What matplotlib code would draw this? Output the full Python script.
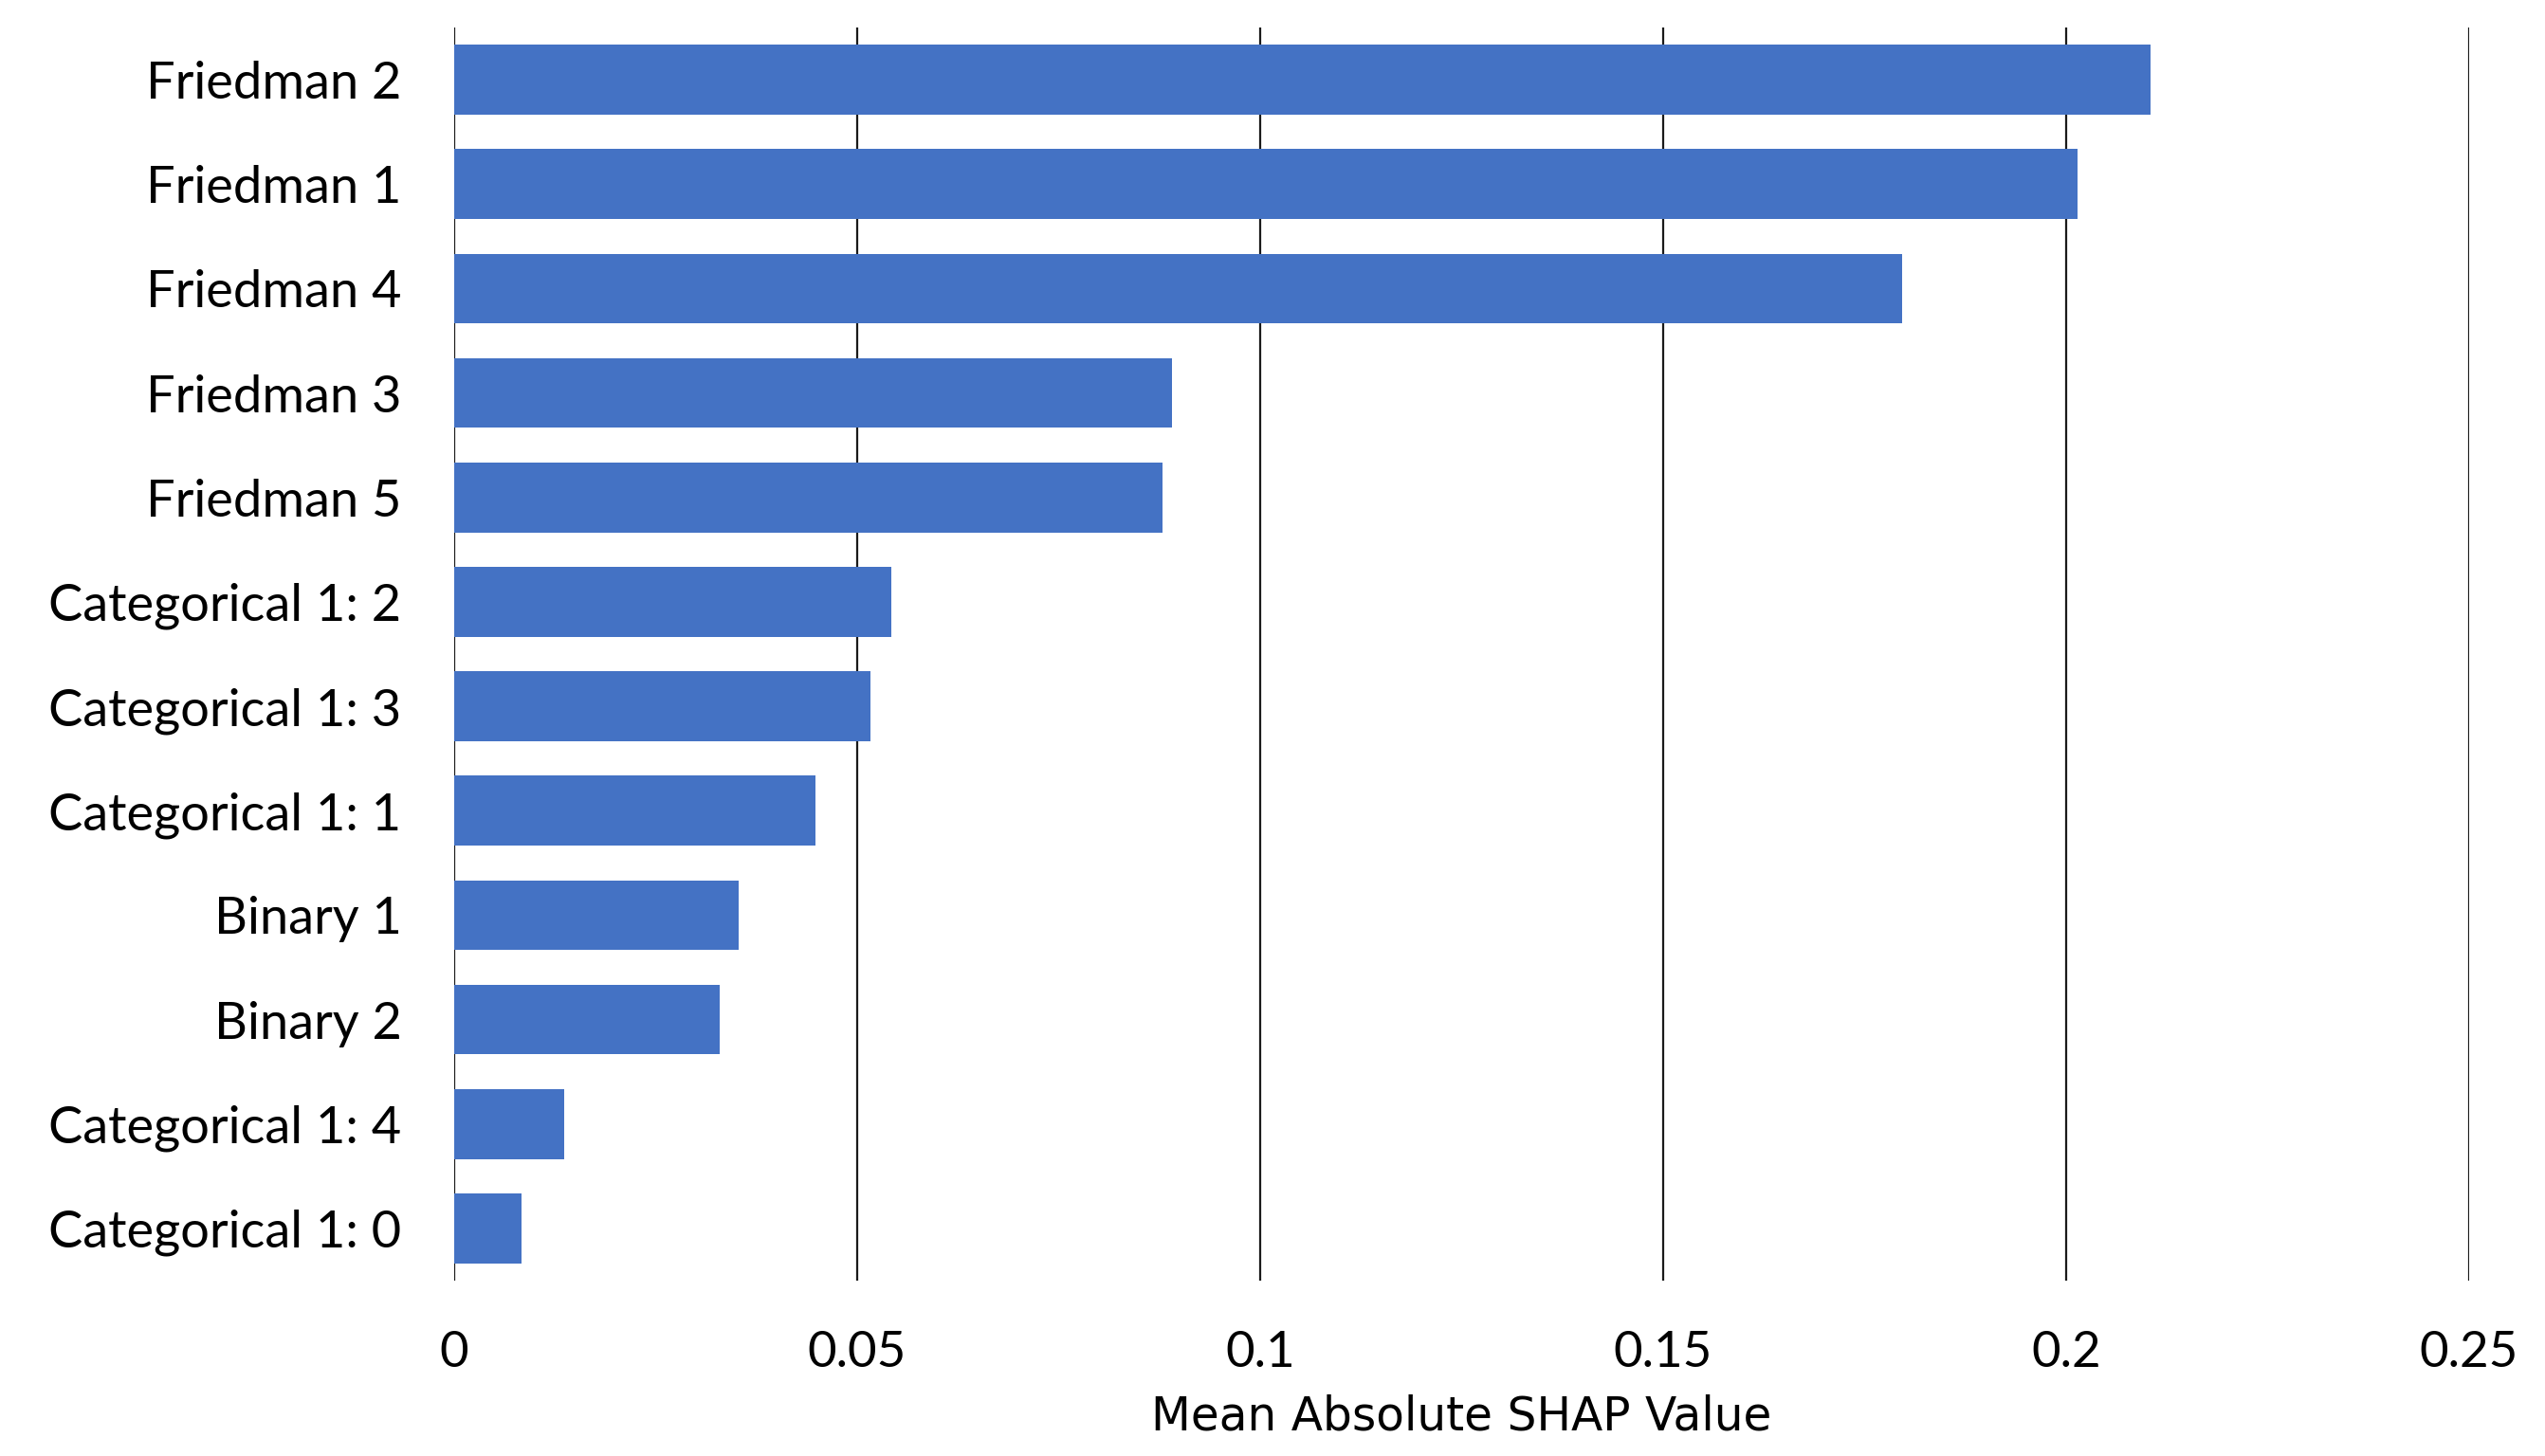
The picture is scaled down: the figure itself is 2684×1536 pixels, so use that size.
import matplotlib
matplotlib.use("Agg")
import matplotlib.pyplot as plt
import numpy as np

# feature names, top to bottom
features = ["Friedman 2", "Friedman 1", "Friedman 4", "Friedman 3", "Friedman 5",
            "Categorical 1: 2", "Categorical 1: 3", "Categorical 1: 1",
            "Binary 1", "Binary 2", "Categorical 1: 4", "Categorical 1: 0"]
shap_vals = [0.2105, 0.2014, 0.1796, 0.0891, 0.0879,
             0.0542, 0.0516, 0.0448, 0.0353, 0.0329, 0.0137, 0.0083]
xticks = [0, 0.05, 0.1, 0.15, 0.2, 0.25]
xtick_labels = ["0", "0.05", "0.1", "0.15", "0.2", "0.25"]

fig = plt.figure(figsize=(26.84, 15.36), dpi=100)
# axes box in pixels: x 479..2604, y 29..1351
ax = fig.add_axes([479 / 2684, 1 - 1351 / 1536, (2604 - 479) / 2684, (1351 - 29) / 1536])

ypos = np.arange(len(features))
ax.barh(ypos, shap_vals, height=0.67, color="#4472C4", zorder=3)

ax.set_xlim(0, 0.25)
ax.set_ylim(len(features) - 0.5, -0.5)

ax.set_xticks(xticks)
ax.set_xticklabels(xtick_labels, fontfamily="Lato", fontsize=38)
ax.set_yticks(ypos)
ax.set_yticklabels(features, fontfamily="Lato", fontsize=39)

ax.tick_params(axis="both", length=0)
ax.tick_params(axis="x", pad=38)
ax.tick_params(axis="y", pad=40)

for s in ax.spines.values():
    s.set_visible(False)

ax.grid(axis="x", color="#1a1a1a", linewidth=1.6, zorder=0)
ax.set_axisbelow(True)

ax.set_xlabel("Mean Absolute SHAP Value", fontfamily="DejaVu Sans", fontsize=35, labelpad=14)

fig.savefig("out.png", dpi=100)
